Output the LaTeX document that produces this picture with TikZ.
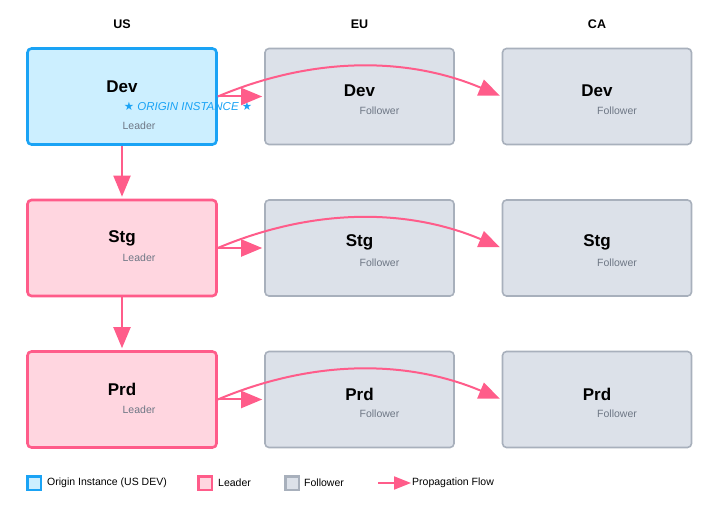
\documentclass[tikz,border=0pt]{standalone}
\usepackage{fontspec}
\setmainfont{Liberation Sans}
\newfontfamily\starfont{DejaVu Sans}
\usetikzlibrary{arrows.meta}

\definecolor{origfill}{HTML}{CCEFFF}
\definecolor{origline}{HTML}{1AA3F5}
\definecolor{leadfill}{HTML}{FFD6E0}
\definecolor{leadline}{HTML}{FF5C8A}
\definecolor{follfill}{HTML}{DCE1E9}
\definecolor{follline}{HTML}{A8B0BC}
\definecolor{subgray}{HTML}{6E7785}

\tikzset{
    env/.style={rectangle, rounded corners=4pt, minimum width=189pt, minimum height=96pt, inner sep=0pt},
    originbox/.style={env, fill=origfill, draw=origline, line width=2.6pt},
    leaderbox/.style={env, fill=leadfill, draw=leadline, line width=2.6pt},
    followerbox/.style={env, fill=follfill, draw=follline, line width=1.6pt},
    envtitle/.style={font=\bfseries\fontsize{17}{19}\selectfont, inner sep=0pt},
    envsub/.style={font=\fontsize{10.5}{12}\selectfont, text=subgray, inner sep=0pt},
    colhead/.style={font=\bfseries\fontsize{12.5}{14}\selectfont, inner sep=0pt},
    flow/.style={draw=leadline, fill=leadline, line width=2pt, -{Triangle[length=21pt,width=17pt]}, shorten >=2pt},
    legbox/.style={rectangle, minimum size=13.5pt, inner sep=0pt},
    legtext/.style={font=\fontsize{10.5}{12}\selectfont, anchor=west, inner sep=0pt}
}

\begin{document}
\begin{tikzpicture}[x=1pt,y=-1pt]
    \useasboundingbox (0,0) rectangle (715,510);

    % Regiones
    \node[colhead] (hUS) at (122,24) {US};
    \node[colhead] (hEU) at (359.5,24) {EU};
    \node[colhead] (hCA) at (597,24) {CA};

    % Instancia de origen
    \node[originbox] (usDev) at (122,96.5) {};
    \node[envtitle] (usDevT) at (122,87) {Dev};
    \node[envsub, text=origline, font=\itshape\fontsize{11.5}{13}\selectfont] (usDevO) at (188,106)
        {{\starfont ★} ORIGIN INSTANCE {\starfont ★}};
    \node[envsub] (usDevS) at (139,126) {Leader};

    % Lideres
    \foreach \row/\y in {Stg/248, Prd/399.5}{
        \node[leaderbox] (us\row) at (122,\y) {};
        \node[envtitle] (us\row T) at (122,\y-10) {\row};
        \node[envsub] (us\row S) at (139,\y+10) {Leader};
    }

    % Seguidores
    \foreach \row/\y in {Dev/96.5, Stg/248, Prd/399.5}{
        \foreach \col/\x in {eu/359.5, ca/597}{
            \node[followerbox] (\col\row) at (\x,\y) {};
            \node[envtitle] (\col\row T) at (\x,\y-5.5) {\row};
            \node[envsub] (\col\row S) at (\x+20,\y+14.5) {Follower};
        }
    }

    % Propagacion
    \draw[flow] (usDev.south) -- (usStg.north);
    \draw[flow] (usStg.south) -- (usPrd.north);
    \foreach \row in {Dev, Stg, Prd}{
        \draw[flow] (us\row.east) -- (eu\row.west);
        \draw[flow, fill=none] (us\row.east) .. controls +(95,-40) and +(-95,-40) .. (ca\row.west);
    }

    % Leyenda
    \node[legbox, fill=origfill, draw=origline, line width=2.5pt] (lgO) at (34,483) {};
    \node[legtext] (lgOT) at (47,483) {Origin Instance (US DEV)};
    \node[legbox, fill=leadfill, draw=leadline, line width=2.5pt] (lgL) at (205,483) {};
    \node[legtext] (lgLT) at (218,483) {Leader};
    \node[legbox, fill=follfill, draw=follline, line width=2.5pt] (lgF) at (292,483) {};
    \node[legtext] (lgFT) at (304,483) {Follower};
    \coordinate (lgA) at (378,483);
    \node[legtext] (lgAT) at (412,483) {Propagation Flow};
    \draw[flow, shorten >=1pt, -{Triangle[length=17pt,width=13pt]}] (lgA) -- (lgAT.west);
\end{tikzpicture}
\end{document}
